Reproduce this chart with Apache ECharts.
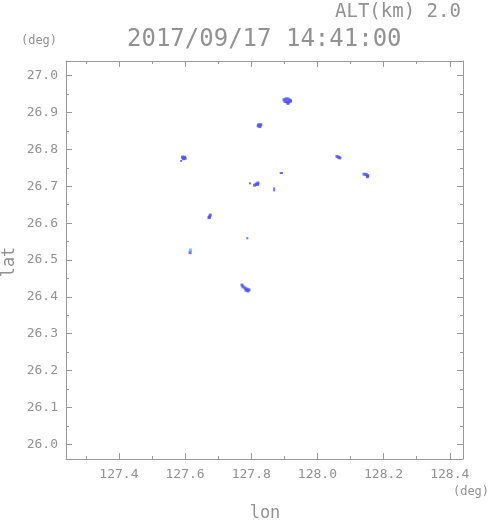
<!DOCTYPE html>
<html>
<head>
<meta charset="utf-8">
<script src="https://cdn.jsdelivr.net/npm/echarts@6/dist/echarts.min.js"></script>
<style>html,body{margin:0;padding:0;background:#fff;}#c{width:491px;height:521px;}</style>
</head>
<body>
<div id="c"></div>
<script>
// ---- data ----
var titleText = '2017/09/17 14:41:00';
var altText = 'ALT(km) 2.0';
var xName = 'lon';
var yName = 'lat';
var unitText = '(deg)';
var xMin = 127.24, xMax = 128.44;
var yMin = 25.96, yMax = 27.04;
var xTicks = [127.4, 127.6, 127.8, 128.0, 128.2, 128.4];
var xMinorTicks = [127.3, 127.5, 127.7, 127.9, 128.1, 128.3];
var yTicks = [26.0, 26.1, 26.2, 26.3, 26.4, 26.5, 26.6, 26.7, 26.8, 26.9, 27.0];
var yMinorTicks = [26.05, 26.15, 26.25, 26.35, 26.45, 26.55, 26.65, 26.75, 26.85, 26.95];

// radar echo pixels (lon, lat) — blue
var echoBlue = [
  [127.899,26.935],[127.905,26.937],[127.911,26.937],[127.917,26.934],
  [127.902,26.930],[127.908,26.929],[127.914,26.929],[127.919,26.931],[127.911,26.925],
  [127.823,26.867],[127.829,26.867],[127.826,26.862],[127.821,26.864],
  [127.592,26.779],[127.598,26.779],[127.595,26.775],[127.600,26.776],
  [128.059,26.781],[128.064,26.779],[128.068,26.777],
  [128.141,26.733],[128.147,26.732],[128.152,26.729],[128.151,26.726],
  [127.810,26.703],[127.815,26.706],[127.820,26.709],[127.819,26.705],
  [127.676,26.622],[127.674,26.617],[127.672,26.615],
  [127.615,26.520],
  [127.772,26.432],[127.775,26.427],[127.781,26.424],[127.787,26.421],
  [127.790,26.416],[127.793,26.419],[127.784,26.418]
];
// single-pixel echoes
var echoSmall = [
  [127.588,26.769],[127.889,26.736],[127.893,26.736],[127.796,26.708],
  [127.869,26.694],[127.869,26.689],[127.788,26.559]
];
// cyan echo pixels
var echoCyan = [
  [127.616,26.527]
];

var txt = '#929292', line = '#9a9a9a';
var mono = '"DejaVu Sans Mono", monospace';

function fmt(v){ return v.toFixed(1); }

var chart = echarts.init(document.getElementById('c'), null, {renderer:'canvas'});

function xAx(pos, vals, len, showLabel, showLine){
  return {type:'value', position:pos, min:xMin, max:xMax, gridIndex:0,
    axisLine:{show:showLine, onZero:false, lineStyle:{color:line, width:1}},
    axisTick:{show:true, inside:true, length:len, customValues:vals, lineStyle:{color:line}},
    axisLabel:{show:showLabel, customValues:vals, formatter:fmt, margin:9, color:txt, fontSize:13, fontFamily:mono},
    splitLine:{show:false}};
}
function yAx(pos, vals, len, showLabel, showLine){
  return {type:'value', position:pos, min:yMin, max:yMax, gridIndex:0,
    axisLine:{show:showLine, onZero:false, lineStyle:{color:line, width:1}},
    axisTick:{show:true, inside:true, length:len, customValues:vals, lineStyle:{color:line}},
    axisLabel:{show:showLabel, customValues:vals, formatter:fmt, margin:8, color:txt, fontSize:13, fontFamily:mono},
    splitLine:{show:false}};
}

chart.setOption({
  animation:false,
  backgroundColor:'#fff',
  grid:{left:66, top:61, right:28, bottom:62, containLabel:false},
  xAxis:[
    xAx('bottom', xTicks, 6, true, true),
    xAx('bottom', xMinorTicks, 3, false, false),
    xAx('top', xTicks, 6, false, true),
    xAx('top', xMinorTicks, 3, false, false)
  ],
  yAxis:[
    yAx('left', yTicks, 6, true, true),
    yAx('left', yMinorTicks, 3, false, false),
    yAx('right', yTicks, 6, false, true),
    yAx('right', yMinorTicks, 3, false, false)
  ],
  series:[
    {type:'scatter', xAxisIndex:0, yAxisIndex:0, data:echoBlue, symbol:'rect', symbolSize:3,
     itemStyle:{color:'#4b4bff'}},
    {type:'scatter', xAxisIndex:0, yAxisIndex:0, data:echoSmall, symbol:'rect', symbolSize:2,
     itemStyle:{color:'#4b4bff'}},
    {type:'scatter', xAxisIndex:0, yAxisIndex:0, data:echoCyan, symbol:'rect', symbolSize:3,
     itemStyle:{color:'#33bbff'}}
  ],
  graphic:[
    {type:'text', x:335, y:12, style:{text:altText, font:'19px '+mono, fill:txt, align:'left', verticalAlign:'middle'}},
    {type:'text', x:127, y:40, scaleX:1.0, style:{text:titleText, font:'24px '+mono, fill:txt, align:'left', verticalAlign:'middle'}},
    {type:'text', x:39, y:41, style:{text:unitText, font:'12px '+mono, fill:txt, align:'center', verticalAlign:'middle'}},
    {type:'text', x:471, y:492, style:{text:unitText, font:'12px '+mono, fill:txt, align:'center', verticalAlign:'middle'}},
    {type:'text', x:265, y:514, style:{text:xName, font:'17px '+mono, fill:txt, align:'center', verticalAlign:'middle'}},
    {type:'text', x:10, y:262, rotation:Math.PI/2, style:{text:yName, font:'17px '+mono, fill:txt, align:'center', verticalAlign:'middle'}}
  ]
});
</script>
</body>
</html>
